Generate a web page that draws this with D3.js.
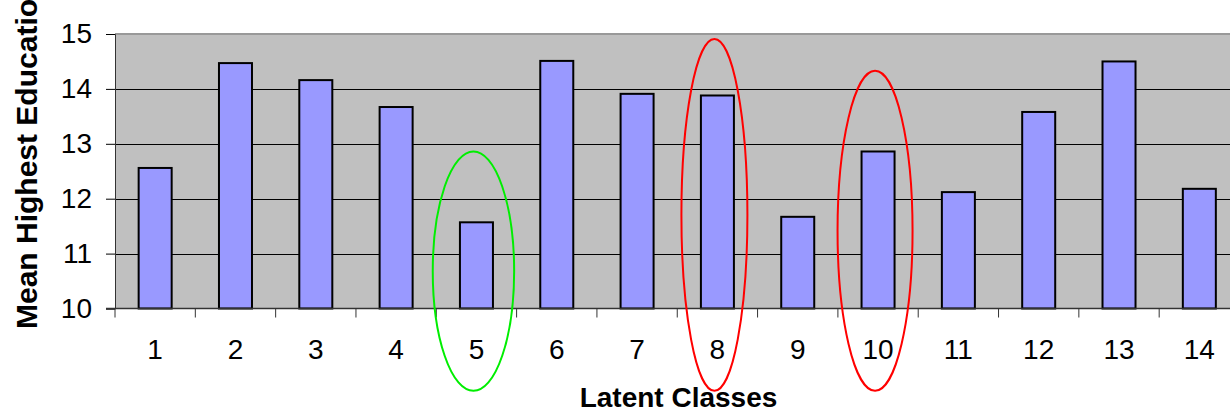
<!DOCTYPE html>
<html><head><meta charset="utf-8">
<script src="https://cdn.jsdelivr.net/npm/d3@7"></script>
<style>
html,body{margin:0;padding:0;background:#fff;overflow:hidden}
text{font-family:"Liberation Sans",Arial,sans-serif}
</style></head>
<body>
<svg id="c" width="1230" height="414"></svg>
<script>
const categories = ["1","2","3","4","5","6","7","8","9","10","11","12","13","14"];
const values = [12.56,14.47,14.16,13.67,11.57,14.51,13.91,13.88,11.67,12.86,12.12,13.58,14.50,12.18];
const yTicks = [10,11,12,13,14,15];
const annotCats = ["5","8","10"];
const annotTop = [12.86,14.91,14.33];
const annotBottom = [8.5,8.5,8.5];
const annotColors = ["#00ee00","#ff0000","#ff0000"];
const xTitle = "Latent Classes";
const yTitle = "Mean Highest Education";

const svg = d3.select("#c");
const L = 115, R = 1239.5, T = 34, B = 308.5;
const x = d3.scaleBand().domain(categories).range([L, R]).paddingInner(0.589).paddingOuter(0.2945);
const y = d3.scaleLinear().domain([10,15]).range([B, T]);
const step = x.step();

// plot background
svg.append("rect").attr("x",L).attr("y",T).attr("width",R-L).attr("height",B-T).attr("fill","#c0c0c0");
svg.append("line").attr("x1",L).attr("x2",R).attr("y1",T).attr("y2",T).attr("stroke","#999").attr("stroke-width",2);

// gridlines
svg.append("g").selectAll("line").data(yTicks.filter(d=>d>10 && d<15)).join("line")
  .attr("x1",L).attr("x2",R).attr("y1",d=>Math.round(y(d))+0.5).attr("y2",d=>Math.round(y(d))+0.5)
  .attr("stroke","#000").attr("stroke-width",1);

// bars
svg.append("g").selectAll("rect").data(values).join("rect")
  .attr("x",(d,i)=>x(categories[i]))
  .attr("y",d=>y(d))
  .attr("width",x.bandwidth())
  .attr("height",d=>B-y(d))
  .attr("fill","#9999ff").attr("stroke","#000").attr("stroke-width",2);

// y axis
const yAxis = d3.axisLeft(y).tickValues(yTicks).tickSize(9).tickPadding(14).tickFormat(d3.format("d"));
const gy = svg.append("g").attr("transform",`translate(${L},0)`).call(yAxis);
gy.select(".domain").attr("stroke","#333");
gy.selectAll(".tick line").attr("stroke","#000");
gy.selectAll("text").attr("font-size",28).attr("fill","#000").attr("font-family","Liberation Sans, Arial, sans-serif");

// x axis: labels at band centers, ticks at boundaries
const gx = svg.append("g");
gx.append("line").attr("x1",L-9).attr("x2",R).attr("y1",B).attr("y2",B).attr("stroke","#333").attr("stroke-width",1.5);
const bounds = d3.range(categories.length+1).map(i=>L+i*step);
gx.selectAll("line.tk").data(bounds).join("line").attr("class","tk")
  .attr("x1",d=>d).attr("x2",d=>d).attr("y1",B).attr("y2",B+9).attr("stroke","#333");
gx.selectAll("text").data(categories).join("text")
  .attr("x",d=>x(d)+x.bandwidth()/2).attr("y",359)
  .attr("text-anchor","middle").attr("font-size",28).attr("fill","#000").text(d=>d);

// titles
svg.append("text").attr("x",678.5).attr("y",407).attr("text-anchor","middle")
  .attr("font-size",28).attr("font-weight","bold").text(xTitle);
svg.append("text").attr("transform","translate(37,329) rotate(-90)").attr("text-anchor","start")
  .attr("font-size",30).attr("font-weight","bold").text(yTitle);

// annotation ellipses
const rxs = [40.7,33,37.5];
svg.append("g").selectAll("ellipse").data(annotCats).join("ellipse")
  .attr("cx",d=>x(d)+x.bandwidth()/2 - 3)
  .attr("cy",(d,i)=>(y(annotTop[i])+y(annotBottom[i]))/2)
  .attr("rx",(d,i)=>rxs[i])
  .attr("ry",(d,i)=>(y(annotBottom[i])-y(annotTop[i]))/2)
  .attr("fill","none").attr("stroke",(d,i)=>annotColors[i]).attr("stroke-width",2);
</script>
</body></html>
